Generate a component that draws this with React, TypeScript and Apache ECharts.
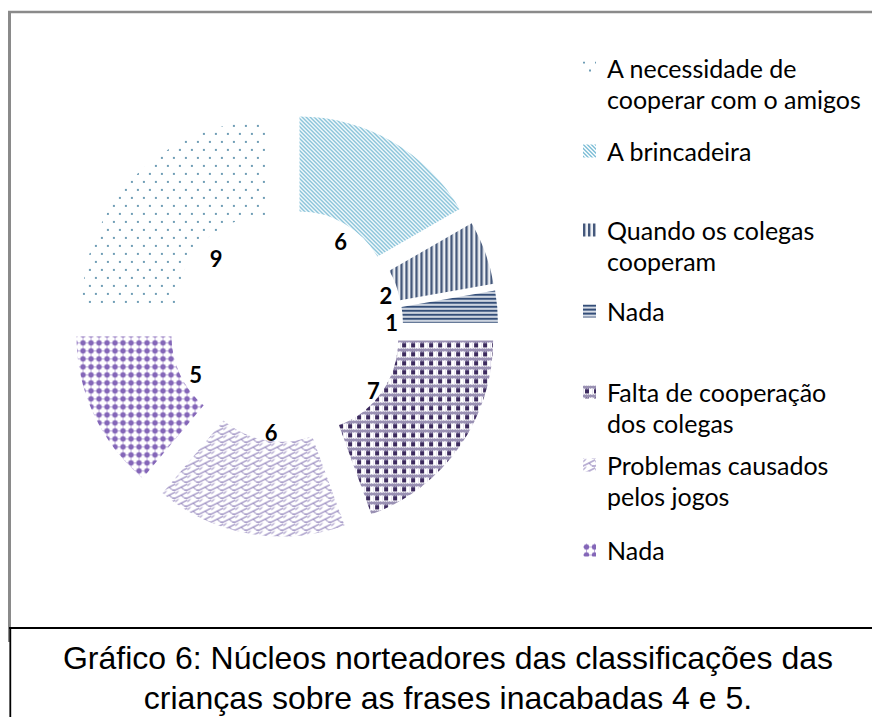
import React, { useEffect, useRef } from "react";
import * as echarts from "echarts";

// ---------- data ----------
const categories = [
  "A necessidade de\ncooperar com o amigos",
  "A brincadeira",
  "Quando os colegas\ncooperam",
  "Nada",
  "Falta de cooperação\ndos colegas",
  "Problemas causados\npelos jogos",
  "Nada",
];
const values = [9, 6, 2, 1, 7, 6, 5];
const captionLines = [
  "Gráfico 6: Núcleos norteadores das classificações das",
  "crianças sobre as frases inacabadas 4 e 5.",
];

// ---------- layout ----------
const CX = 286;
const CY = 325;
const legendIconCenters = [68, 151, 230, 311, 392, 465, 550];

type Draw = (ctx: CanvasRenderingContext2D) => void;
function makePattern(w: number, h: number, draw: Draw): any {
  const c = document.createElement("canvas");
  c.width = w;
  c.height = h;
  const ctx = c.getContext("2d") as CanvasRenderingContext2D;
  ctx.fillStyle = "#ffffff";
  ctx.fillRect(0, 0, w, h);
  draw(ctx);
  return { image: c.toDataURL(), repeat: "repeat", imageWidth: w, imageHeight: h };
}
function px(ctx: CanvasRenderingContext2D, x: number, y: number, w: number, h: number, color: string) {
  ctx.fillStyle = color;
  ctx.fillRect(x, y, w, h);
}

function buildPatterns() {
  const dots = makePattern(12, 16, (ctx) => {
    px(ctx, 0, 0, 2, 2, "#6f9db5");
    px(ctx, 6, 8, 2, 2, "#6f9db5");
  });
  const diag = makePattern(4, 4, (ctx) => {
    for (let i = 0; i < 4; i++) {
      px(ctx, i, i, 1, 1, "#4aa3c4");
      px(ctx, (i + 1) % 4, i, 1, 1, "#b2d9e8");
    }
  });
  const vert = makePattern(5, 4, (ctx) => {
    px(ctx, 0, 0, 2, 4, "#45587b");
    px(ctx, 2, 0, 1, 4, "#aab4c5");
    px(ctx, 3, 0, 2, 4, "#eef1f5");
  });
  const horiz = makePattern(4, 4, (ctx) => {
    px(ctx, 0, 0, 4, 2, "#344e78");
    px(ctx, 0, 2, 4, 1, "#b0bccf");
  });
  const checker = makePattern(9, 9, (ctx) => {
    for (let x = 0; x < 9; x++) {
      for (let y = 0; y < 3; y++) {
        px(ctx, x, y, 1, 1, (x + y) % 2 ? "#6f6490" : "#c4bdd6");
      }
    }
    px(ctx, 2, 3, 4, 1, "#8a7fa6");
    px(ctx, 2, 4, 4, 4, "#3d2b5e");
    px(ctx, 0, 3, 1, 6, "#e6e2ee");
  });
  const shingle = makePattern(12, 8, (ctx) => {
    ctx.strokeStyle = "#7462a8";
    ctx.lineWidth = 1;
    ctx.beginPath();
    ctx.moveTo(0, 7.5);
    ctx.lineTo(6, 4.5);
    ctx.lineTo(12, 1.5);
    ctx.moveTo(6, 4.5);
    ctx.lineTo(9, 7.5);
    ctx.moveTo(0, 3.5);
    ctx.lineTo(3, 0.5);
    ctx.moveTo(9, 7.5);
    ctx.lineTo(12, 7.5);
    ctx.stroke();
  });
  const bigDots = makePattern(8, 8, (ctx) => {
    px(ctx, 0, 3, 8, 1, "#c2b3de");
    px(ctx, 3, 0, 1, 8, "#c2b3de");
    ctx.fillStyle = "#8466b8";
    ctx.beginPath();
    ctx.arc(3.5, 3.5, 2.7, 0, Math.PI * 2);
    ctx.fill();
  });
  return [dots, diag, vert, horiz, checker, shingle, bigDots];
}

export default function App() {
  const ref = useRef<HTMLDivElement>(null);
  useEffect(() => {
    if (!ref.current) return;
    const chart = echarts.init(ref.current, undefined, { renderer: "svg" });
    const patterns = buildPatterns();
    const keys = values.map((_, i) => "slice" + i);

    const legends = keys.map((k, i) => {
      const twoLine = categories[i].indexOf("\n") >= 0;
      return {
        data: [k],
        left: 583,
        top: legendIconCenters[i] - (twoLine ? 46.5 : 15.5),
        padding: 0,
        itemWidth: 13,
        itemHeight: 13,
        icon: "rect",
        selectedMode: false,
        formatter: () => (twoLine ? "\n" + categories[i] : categories[i]),
        textStyle: {
          fontFamily: "Lato",
          fontSize: 25,
          lineHeight: 31,
          color: "#000",
          padding: [0, 0, 0, 6],
        },
      };
    });

    const graphic: any[] = [
      { type: "line", shape: { x1: 8, y1: 12, x2: 872, y2: 12 }, style: { stroke: "#8a8a8a", lineWidth: 2.5 }, silent: true },
      { type: "line", shape: { x1: 9.5, y1: 11, x2: 9.5, y2: 642 }, style: { stroke: "#8a8a8a", lineWidth: 3 }, silent: true },
      { type: "line", shape: { x1: 9, y1: 628, x2: 872, y2: 628 }, style: { stroke: "#000", lineWidth: 1.8 }, silent: true },
      { type: "line", shape: { x1: 10.3, y1: 628, x2: 10.3, y2: 717 }, style: { stroke: "#000", lineWidth: 1.8 }, silent: true },
    ];
    captionLines.forEach((t, i) => {
      graphic.push({
        type: "text",
        x: 448,
        y: 658 + i * 39.5,
        silent: true,
        style: {
          text: t,
          fontFamily: "Liberation Sans",
          fontSize: 32,
          fill: "#000",
          align: "center",
          verticalAlign: "middle",
          textAlign: "center",
          textVerticalAlign: "middle",
        },
      });
    });

    const option: any = {
      animation: false,
      backgroundColor: "#ffffff",
      legend: legends,
      graphic,
      series: [
        {
          type: "pie",
          center: [CX, CY],
          radius: [90, 185],
          startAngle: 180,
          clockwise: true,
          selectedMode: "multiple",
          selectedOffset: 27,
          avoidLabelOverlap: false,
          label: { show: false },
          labelLine: { show: false },
          emphasis: { disabled: true, scale: false },
          data: values.map((v, i) => ({
            value: v,
            name: keys[i],
            selected: true,
            itemStyle: { color: patterns[i], borderWidth: 0 },
            select: { itemStyle: { color: patterns[i], borderWidth: 0 } },
          })),
        },
        {
          type: "pie",
          center: [CX + 3, CY + 6],
          radius: [0, 200],
          startAngle: 180,
          clockwise: true,
          silent: true,
          avoidLabelOverlap: false,
          itemStyle: { color: "rgba(0,0,0,0)" },
          emphasis: { disabled: true },
          labelLine: { show: false },
          label: {
            show: true,
            position: "inside",
            formatter: "{c}",
            fontFamily: "Lato",
            fontWeight: "bold",
            fontSize: 22,
            color: "#000",
          },
          data: values.map((v, i) => ({ value: v, name: "label" + i })),
        },
      ],
    };
    chart.setOption(option);
    return () => chart.dispose();
  }, []);
  return (
    <div
      ref={ref}
      style={{ position: "absolute", left: 0, top: 0, width: 872, height: 717, background: "#fff" }}
    />
  );
}
